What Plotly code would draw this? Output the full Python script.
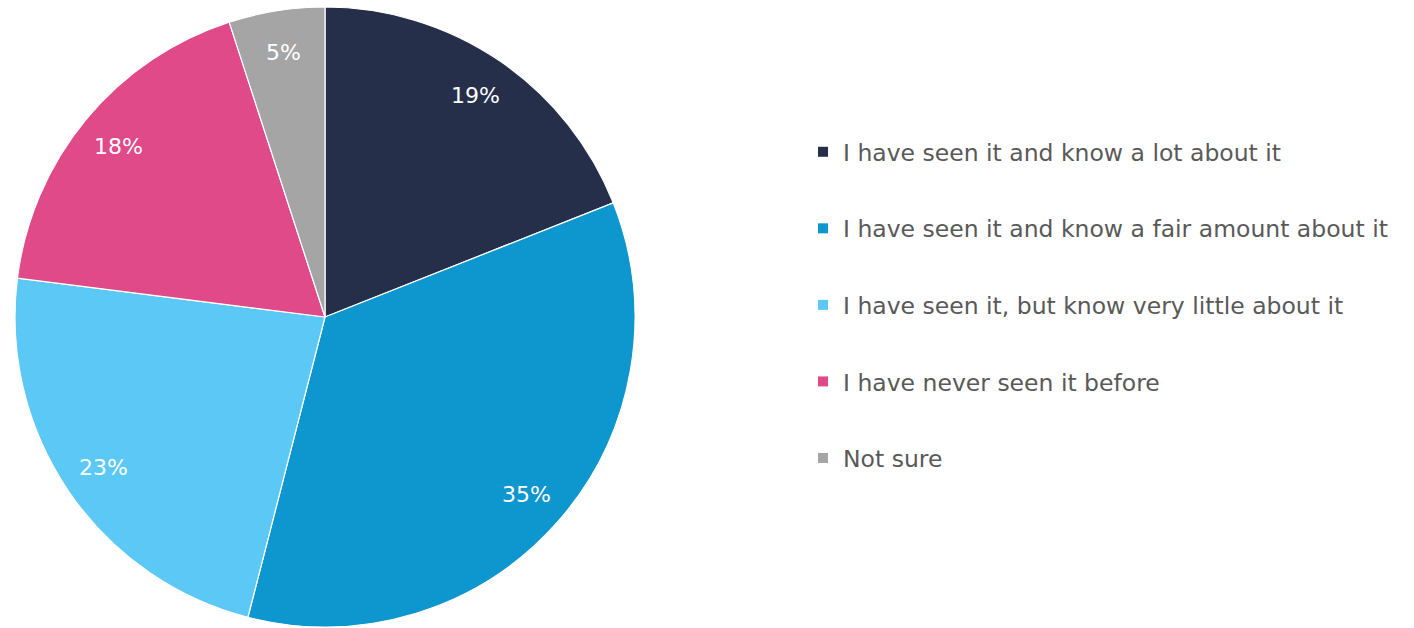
import math
import plotly.graph_objects as go

categories = [
    "I have seen it and know a lot about it",
    "I have seen it and know a fair amount about it",
    "I have seen it, but know very little about it",
    "I have never seen it before",
    "Not sure",
]
shares = [19, 35, 23, 18, 5]
colors = ["#252F4A", "#0E96CE", "#5BC8F5", "#E04A88", "#A5A5A5"]

W, H = 1414, 628
FONT = "DejaVu Sans"

# pie placement in pixels
CX, CY, R = 325, 317, 310

fig = go.Figure()

fig.add_trace(go.Pie(
    labels=categories,
    values=shares,
    sort=False,
    direction="clockwise",
    rotation=0,
    marker=dict(colors=colors, line=dict(color="white", width=1.2)),
    textinfo="none",
    domain=dict(x=[(CX - R) / W, (CX + R) / W], y=[1 - (CY + R) / H, 1 - (CY - R) / H]),
    showlegend=False,
    hoverinfo="label+percent",
))

# Percentage labels placed toward the rim of each slice
total = sum(shares)
cum = 0
for v in shares:
    mid = (cum + v / 2) / total * 2 * math.pi
    cum += v
    r = 0.865 * R
    px = CX + r * math.sin(mid)
    py = CY - r * math.cos(mid)
    fig.add_annotation(
        x=px / W, y=1 - py / H, xref="paper", yref="paper",
        xanchor="center", yanchor="middle",
        text=f"{v}%", showarrow=False,
        font=dict(family=FONT, size=22, color="white"),
    )

# Legend entries drawn as square markers, one group each for even spacing
for name, col in zip(categories, colors):
    fig.add_trace(go.Scatter(
        x=[None], y=[None], mode="markers", name=name,
        marker=dict(symbol="square", size=10, color=col),
        legendgroup=name, showlegend=True,
    ))

fig.update_layout(
    width=W, height=H,
    margin=dict(l=0, r=0, t=0, b=0),
    paper_bgcolor="white",
    plot_bgcolor="white",
    xaxis=dict(visible=False),
    yaxis=dict(visible=False),
    legend=dict(
        x=803 / W, y=1 - 130 / H, xanchor="left", yanchor="top",
        font=dict(family=FONT, size=23.5, color="#595959"),
        tracegroupgap=43,
        itemwidth=30,
        bgcolor="rgba(0,0,0,0)",
    ),
)

fig.write_html("out.html")
